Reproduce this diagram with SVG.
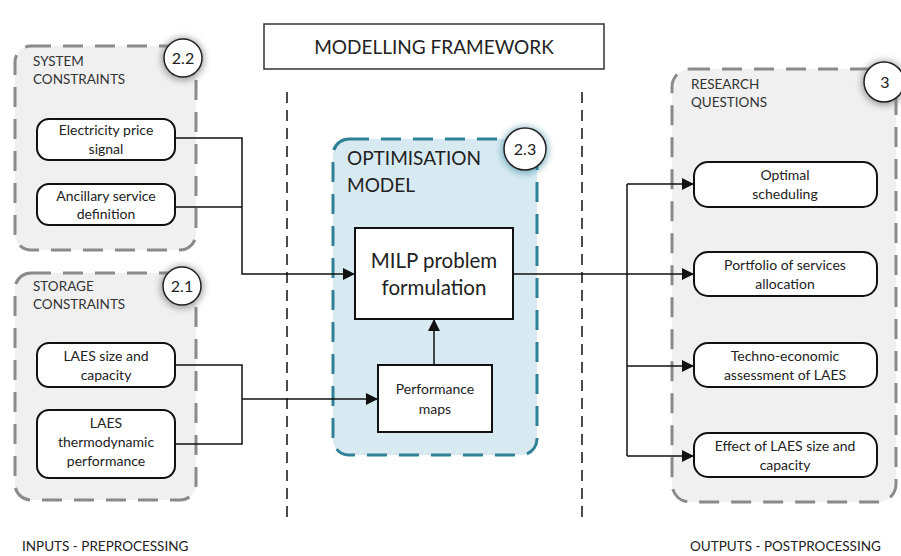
<svg xmlns="http://www.w3.org/2000/svg" width="901" height="556" viewBox="0 0 901 556">
<defs>
<style>
text{font-family:Lato,"Open Sans","Liberation Sans",sans-serif;fill:#222;}
.grp{fill:#f0f0f0;stroke:#8a8a8a;stroke-width:3;stroke-dasharray:20 12;}
.opt{fill:#d7eaf1;stroke:#2f8197;stroke-width:3;stroke-dasharray:20 12;}
.box{fill:#fff;stroke:#111;stroke-width:2;}
.sq{fill:#fff;stroke:#111;stroke-width:2;}
.gt{font-size:13.5px;fill:#333;}
.bt{font-size:14px;text-anchor:middle;}
.ct{font-size:16px;text-anchor:middle;}
.con{fill:none;stroke:#111;stroke-width:1.5;}
.sep{stroke:#111;stroke-width:1.5;stroke-dasharray:11 7;}
.circ{fill:#fff;stroke:#222;stroke-width:1.5;}
</style>
<filter id="glow" x="-50%" y="-50%" width="200%" height="200%">
<feGaussianBlur stdDeviation="3"/>
</filter>
<marker id="arr" viewBox="0 0 10 10" refX="10" refY="5" markerWidth="15" markerHeight="12" markerUnits="userSpaceOnUse" orient="auto">
<path d="M0,0 L10,5 L0,10 z" fill="#111"/>
</marker>
</defs>

<g id="title">
<rect x="264" y="24" width="340" height="45" fill="#fff" stroke="#333" stroke-width="1.5"/>
<text x="434" y="54" font-size="19" text-anchor="middle">MODELLING FRAMEWORK</text>
</g>

<g id="separators">
<line class="sep" x1="287" y1="92" x2="287" y2="524"/>
<line class="sep" x1="582" y1="92" x2="582" y2="524"/>
</g>

<g id="system-constraints">
<rect class="grp" x="15" y="46" width="181" height="204" rx="16"/>
<text class="gt" x="33" y="66">SYSTEM</text>
<text class="gt" x="33" y="84">CONSTRAINTS</text>
<circle cx="183" cy="59" r="22" fill="#777" opacity="0.6" filter="url(#glow)"/>
<circle class="circ" cx="183" cy="58" r="19"/>
<text class="ct" x="183" y="64">2.2</text>
</g>

<g id="electricity-price">
<rect class="box" x="37" y="119" width="138" height="41" rx="12"/>
<text class="bt" x="106" y="135">Electricity price</text>
<text class="bt" x="106" y="154">signal</text>
</g>

<g id="ancillary-service">
<rect class="box" x="37" y="184" width="138" height="41" rx="12"/>
<text class="bt" x="106" y="201">Ancillary service</text>
<text class="bt" x="106" y="219">definition</text>
</g>

<g id="storage-constraints">
<rect class="grp" x="15" y="273" width="181" height="227" rx="16"/>
<text class="gt" x="33" y="291">STORAGE</text>
<text class="gt" x="33" y="309">CONSTRAINTS</text>
<circle cx="182" cy="287" r="22" fill="#777" opacity="0.6" filter="url(#glow)"/>
<circle class="circ" cx="182" cy="286" r="19"/>
<text class="ct" x="182" y="292">2.1</text>
</g>

<g id="laes-size">
<rect class="box" x="37" y="343" width="138" height="44" rx="12"/>
<text class="bt" x="106" y="361">LAES size and</text>
<text class="bt" x="106" y="380">capacity</text>
</g>

<g id="laes-thermo">
<rect class="box" x="37" y="410" width="138" height="68" rx="12"/>
<text class="bt" x="106" y="428">LAES</text>
<text class="bt" x="106" y="447">thermodynamic</text>
<text class="bt" x="106" y="466">performance</text>
</g>

<g id="optimisation-model">
<rect class="opt" x="333" y="139" width="204" height="316" rx="16"/>
<text x="347" y="165" font-size="19" fill="#222">OPTIMISATION</text>
<text x="347" y="192" font-size="19" fill="#222">MODEL</text>
<circle cx="525" cy="150" r="24" fill="#2f8197" opacity="0.5" filter="url(#glow)"/>
<circle class="circ" cx="525" cy="149" r="21"/>
<text class="ct" x="525" y="155">2.3</text>
</g>

<g id="milp">
<rect class="sq" x="355" y="228" width="158" height="91"/>
<text x="434" y="268" font-size="20.5" text-anchor="middle">MILP problem</text>
<text x="434" y="295" font-size="20.5" text-anchor="middle">formulation</text>
</g>

<g id="performance-maps">
<rect class="sq" x="378" y="365" width="114" height="67"/>
<text class="bt" x="435" y="394">Performance</text>
<text class="bt" x="435" y="414">maps</text>
</g>

<g id="research-questions">
<rect class="grp" x="672" y="69" width="224" height="433" rx="18"/>
<text class="gt" x="691" y="89">RESEARCH</text>
<text class="gt" x="691" y="107">QUESTIONS</text>
<circle cx="884" cy="83" r="23" fill="#777" opacity="0.6" filter="url(#glow)"/>
<circle class="circ" cx="884" cy="82" r="20"/>
<text class="ct" x="885" y="88">3</text>
</g>

<g id="optimal-scheduling">
<rect class="box" x="694" y="162" width="183" height="45" rx="14"/>
<text class="bt" x="785" y="180">Optimal</text>
<text class="bt" x="785" y="199">scheduling</text>
</g>

<g id="portfolio">
<rect class="box" x="694" y="252" width="183" height="44" rx="14"/>
<text class="bt" x="785" y="270">Portfolio of services</text>
<text class="bt" x="785" y="289">allocation</text>
</g>

<g id="techno-economic">
<rect class="box" x="694" y="343" width="183" height="44" rx="14"/>
<text class="bt" x="785" y="361">Techno-economic</text>
<text class="bt" x="785" y="380">assessment of LAES</text>
</g>

<g id="effect-size">
<rect class="box" x="694" y="433" width="183" height="44" rx="14"/>
<text class="bt" x="785" y="451">Effect of LAES size and</text>
<text class="bt" x="785" y="470">capacity</text>
</g>

<g id="connectors">
<polyline class="con" points="175,138 242,138 242,274 355,274" marker-end="url(#arr)"/>
<line class="con" x1="175" y1="207" x2="242" y2="207"/>
<polyline class="con" points="175,365 242,365 242,444 175,444"/>
<line class="con" x1="242" y1="399" x2="378" y2="399" marker-end="url(#arr)"/>
<line class="con" x1="434" y1="365" x2="434" y2="319" marker-end="url(#arr)"/>
<line class="con" x1="513" y1="274" x2="694" y2="274" marker-end="url(#arr)"/>
<line class="con" x1="627" y1="184" x2="627" y2="456"/>
<line class="con" x1="627" y1="184" x2="694" y2="184" marker-end="url(#arr)"/>
<line class="con" x1="627" y1="366" x2="694" y2="366" marker-end="url(#arr)"/>
<line class="con" x1="627" y1="456" x2="694" y2="456" marker-end="url(#arr)"/>
</g>

<g id="footer">
<text x="22" y="551" font-size="13.5" fill="#333">INPUTS - PREPROCESSING</text>
<text x="690" y="551" font-size="13.5" fill="#333">OUTPUTS - POSTPROCESSING</text>
</g>
</svg>
